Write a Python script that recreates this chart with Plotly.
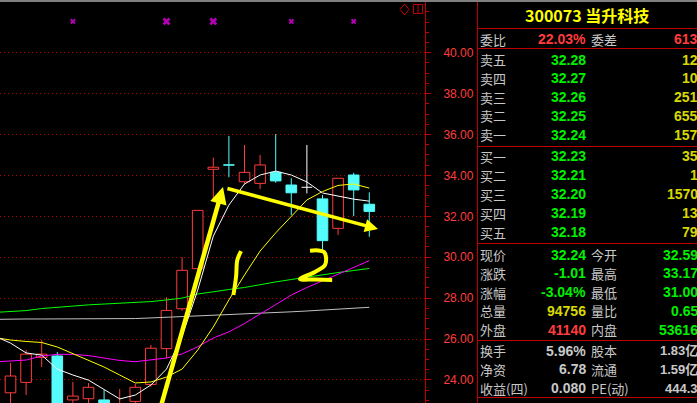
import plotly.graph_objects as go

# ---------------- data ----------------
IDX = list(range(24))
OPEN  = [23.37, 23.88, 25.10, 25.17, 23.02, 23.08, 23.02, 22.40, 22.95, 23.78, 25.53, 27.48,
         29.44, 34.30, 34.52, 33.69, 33.61, 34.15, 33.53, 33.42, 32.85, 31.41, 34.02, 32.59]
HIGH  = [24.83, 25.46, 25.95, 25.36, 23.90, 23.85, 23.51, 23.56, 23.80, 25.71, 28.04, 30.00,
         32.29, 34.87, 35.93, 35.49, 35.00, 36.02, 33.86, 35.49, 33.04, 33.86, 34.13, 33.17]
LOW   = [22.60, 23.26, 24.64, 22.50, 22.60, 22.70, 22.40, 22.20, 22.70, 23.67, 25.06, 27.38,
         29.44, 32.76, 33.91, 33.56, 33.33, 33.64, 32.06, 33.12, 30.35, 31.09, 32.01, 31.00]
CLOSE = [24.19, 25.26, 25.26, 22.60, 23.21, 23.64, 22.55, 22.80, 23.64, 25.55, 27.40, 29.36,
         32.29, 34.40, 34.50, 34.15, 34.51, 33.73, 33.15, 33.42, 30.81, 33.86, 33.29, 32.24]

MA_IDX = list(range(-1, 24))
MA5   = [26.14, 25.80, 25.32, 25.21, 24.53, 24.24, 23.99, 23.51, 23.07, 23.26, 23.75, 24.53, 26.14,
         28.39, 31.03, 32.55, 33.58, 34.02, 34.21, 34.02, 33.68, 33.14, 32.99, 32.84, 32.74]
MA10  = [26.07, 25.95, 25.88, 25.83, 25.61, 25.27, 24.93, 24.63, 24.24, 23.85, 23.90, 24.14, 24.53,
         25.46, 26.59, 27.91, 29.13, 30.30, 31.19, 32.01, 32.80, 33.21, 33.51, 33.58, 33.38]
MA20  = [24.88, 24.92, 24.97, 25.17, 25.25, 25.25, 25.19, 25.07, 24.95, 24.89, 24.97, 25.07, 25.27,
         25.62, 26.05, 26.35, 26.76, 27.24, 27.68, 28.15, 28.52, 28.84, 29.17, 29.50, 29.83]
MA60  = [27.30, 27.33, 27.39, 27.49, 27.56, 27.61, 27.67, 27.71, 27.75, 27.81, 27.83, 27.91, 28.00,
         28.20, 28.32, 28.42, 28.52, 28.67, 28.79, 28.91, 29.03, 29.15, 29.25, 29.35, 29.45]
MA120 = [26.96, 26.98, 26.98, 26.98, 26.98, 26.98, 26.99, 26.99, 26.99, 27.00, 27.03, 27.06, 27.10,
         27.15, 27.17, 27.20, 27.22, 27.27, 27.30, 27.33, 27.37, 27.42, 27.47, 27.51, 27.55]

SIGNAL_IDX = [4, 10, 13, 18, 22]
SIGNAL_LEVEL = 41.53

Y_TICKS = [24, 26, 28, 30, 32, 34, 36, 38, 40]
Y_TICK_TEXT = ["24.00", "26.00", "28.00", "30.00", "32.00", "34.00", "36.00", "38.00", "40.00"]

# hand-drawn annotations (index, price)
ARROW1_TAIL = (9.54, 22.43)
ARROW1_TIP = (13.62, 33.43)
ARROW2_TAIL = (13.81, 33.38)
ARROW2_TIP = (23.56, 31.38)
HAND1_X = [14.78, 14.54, 14.46, 14.29]
HAND1_Y = [30.30, 29.86, 29.05, 28.15]
HAND2_X = [19.20, 19.71, 20.10, 20.22, 20.16, 19.52, 18.56, 19.52, 20.62]
HAND2_Y = [30.32, 30.33, 30.25, 30.01, 29.62, 29.28, 28.93, 28.91, 28.89]

# quote panel
STOCK_TITLE = "300073 当升科技"
WEIBI = ("委比", "22.03%", "委差", "613")
SELL_LABELS = ["卖五", "卖四", "卖三", "卖二", "卖一"]
SELL_PRICES = ["32.28", "32.27", "32.26", "32.25", "32.24"]
SELL_VOLS = ["12", "10", "251", "655", "157"]
BUY_LABELS = ["买一", "买二", "买三", "买四", "买五"]
BUY_PRICES = ["32.23", "32.21", "32.20", "32.19", "32.18"]
BUY_VOLS = ["35", "1", "1570", "13", "79"]
QUOTE_L1 = ["现价", "涨跌", "涨幅", "总量", "外盘"]
QUOTE_V1 = ["32.24", "-1.01", "-3.04%", "94756", "41140"]
QUOTE_L2 = ["今开", "最高", "最低", "量比", "内盘"]
QUOTE_V2 = ["32.59", "33.17", "31.00", "0.65", "53616"]
INFO_L1 = ["换手", "净资", "收益(四)"]
INFO_V1 = ["5.96%", "6.78", "0.080"]
INFO_L2 = ["股本", "流通", "PE(动)"]
INFO_V2 = ["1.83亿", "1.59亿", "444.3"]

# ---------------- styles ----------------
W, H = 697, 403
PLOT_W = 425
RED = "#ff3c3c"
DARKRED = "#c00000"
CYAN = "#54fcfc"
GREEN = "#00f000"
YEL = "#d8d800"
GRAY = "#c8c8c8"
CJK = "Noto Sans CJK SC"
NUM = "Liberation Sans"
LBL_SIZE = 13
NUM_SIZE = 14
ROW = 18.8


def px(x):
    return x / PLOT_W


def py(y):
    return 1 - y / H


fig = go.Figure()


def wick_segments(ids):
    xs, ys = [], []
    for i in ids:
        top = max(OPEN[i], CLOSE[i])
        bot = min(OPEN[i], CLOSE[i])
        xs += [i, i, None, i, i, None]
        ys += [HIGH[i], top, None, bot, LOW[i], None]
    return xs, ys


up = [i for i in IDX if CLOSE[i] > OPEN[i]]
dn = [i for i in IDX if CLOSE[i] < OPEN[i]]
eq = [i for i in IDX if CLOSE[i] == OPEN[i]]

BW = 0.68
for ids, col in ((up, RED), (dn, CYAN)):
    xs, ys = wick_segments(ids)
    fig.add_trace(go.Scatter(x=xs, y=ys, mode="lines", line=dict(color=col, width=1),
                             hoverinfo="skip", showlegend=False))
xs, ys = [], []
for i in eq:
    xs += [i, i, None, i - BW / 2, i + BW / 2, None]
    ys += [HIGH[i], LOW[i], None, OPEN[i], OPEN[i], None]
fig.add_trace(go.Scatter(x=xs, y=ys, mode="lines", line=dict(color="#ffffff", width=1),
                         hoverinfo="skip", showlegend=False))

fig.add_trace(go.Bar(x=up, base=[OPEN[i] for i in up], y=[CLOSE[i] - OPEN[i] for i in up],
                     width=BW, marker=dict(color="#000000", line=dict(color=RED, width=1)),
                     hoverinfo="skip", showlegend=False))
fig.add_trace(go.Bar(x=dn, base=[CLOSE[i] for i in dn], y=[OPEN[i] - CLOSE[i] for i in dn],
                     width=BW, marker=dict(color=CYAN, line=dict(color=CYAN, width=1)),
                     hoverinfo="skip", showlegend=False))

for vals, col in ((MA120, "#c0c0c0"), (MA60, "#00ff00"), (MA20, "#ff00ff"),
                  (MA10, "#ffff00"), (MA5, "#ffffff")):
    fig.add_trace(go.Scatter(x=MA_IDX, y=vals, mode="lines", line=dict(color=col, width=1),
                             hoverinfo="skip", showlegend=False))

fig.add_trace(go.Scatter(x=SIGNAL_IDX, y=[SIGNAL_LEVEL] * len(SIGNAL_IDX), mode="markers",
                         marker=dict(symbol="x", size=[5, 7, 7, 5, 5], color="#ff00ff",
                                     line=dict(width=0)),
                         hoverinfo="skip", showlegend=False))

for hx, hy in ((HAND1_X, HAND1_Y), (HAND2_X, HAND2_Y)):
    fig.add_trace(go.Scatter(x=hx, y=hy, mode="lines",
                             line=dict(color="#ffff00", width=4, shape="spline"),
                             hoverinfo="skip", showlegend=False))

anns = []
for tail, tip, w in ((ARROW1_TAIL, ARROW1_TIP, 4.5), (ARROW2_TAIL, ARROW2_TIP, 3.5)):
    anns.append(dict(x=tip[0], y=tip[1], ax=tail[0], ay=tail[1], xref="x", yref="y",
                     axref="x", ayref="y", text="", showarrow=True, arrowhead=2,
                     arrowsize=0.75, arrowwidth=w, arrowcolor="#ffff00", standoff=0))


def txt(x, y, s, color, size, family, anchor="left", bold=False):
    if bold:
        s = "<b>" + s + "</b>"
    anns.append(dict(x=px(x), y=py(y), xref="paper", yref="paper", text=s, showarrow=False,
                     xanchor=anchor, yanchor="middle",
                     font=dict(color=color, size=size, family=family), borderpad=0))


LX, L2X, V1X, V2X = 479, 590, 587, 699
txt(586.5, 15, STOCK_TITLE, "#ffff00", 16, CJK + ", " + NUM, anchor="center", bold=True)
txt(LX, 39, WEIBI[0], GRAY, LBL_SIZE, CJK)
txt(V1X, 39, WEIBI[1], RED, NUM_SIZE, NUM, anchor="right", bold=True)
txt(L2X, 39, WEIBI[2], GRAY, LBL_SIZE, CJK)
txt(V2X, 39, WEIBI[3], RED, NUM_SIZE, NUM, anchor="right", bold=True)

for k in range(5):
    y = 59.5 + ROW * k
    txt(LX, y, SELL_LABELS[k], GRAY, LBL_SIZE, CJK)
    txt(V1X, y, SELL_PRICES[k], GREEN, NUM_SIZE, NUM, anchor="right", bold=True)
    txt(V2X, y, SELL_VOLS[k], YEL, NUM_SIZE, NUM, anchor="right", bold=True)
for k in range(5):
    y = 156.5 + 18.9 * k
    txt(LX, y, BUY_LABELS[k], GRAY, LBL_SIZE, CJK)
    txt(V1X, y, BUY_PRICES[k], GREEN, NUM_SIZE, NUM, anchor="right", bold=True)
    txt(V2X, y, BUY_VOLS[k], YEL, NUM_SIZE, NUM, anchor="right", bold=True)

V1_COLORS = [GREEN, GREEN, GREEN, YEL, RED]
for k in range(5):
    y = 254.5 + ROW * k
    txt(LX, y, QUOTE_L1[k], GRAY, LBL_SIZE, CJK)
    txt(V1X, y, QUOTE_V1[k], V1_COLORS[k], NUM_SIZE, NUM, anchor="right", bold=True)
    txt(L2X, y, QUOTE_L2[k], GRAY, LBL_SIZE, CJK)
    txt(V2X, y, QUOTE_V2[k], GREEN, NUM_SIZE, NUM, anchor="right", bold=True)
for k in range(3):
    y = 350.5 + ROW * k
    txt(LX, y, INFO_L1[k], GRAY, LBL_SIZE, CJK)
    txt(V1X, y, INFO_V1[k], GRAY, NUM_SIZE, NUM, anchor="right", bold=True)
    txt(L2X, y, INFO_L2[k], GRAY, LBL_SIZE, CJK)
    txt(V2X, y, INFO_V2[k], GRAY, LBL_SIZE, NUM + ", " + CJK, anchor="right", bold=True)

shapes = []


def hline(y, x0, x1, color=DARKRED, w=1):
    shapes.append(dict(type="line", xref="paper", yref="paper", x0=px(x0), x1=px(x1),
                       y0=py(y), y1=py(y), line=dict(color=color, width=w), layer="above"))


def vline(x, y0, y1, color=DARKRED, w=1):
    shapes.append(dict(type="line", xref="paper", yref="paper", x0=px(x), x1=px(x),
                       y0=py(y0), y1=py(y1), line=dict(color=color, width=w), layer="above"))


for y in (28.5, 48.5, 146.5, 243.5, 340.5, 397.5):
    hline(y, 477, 697)
vline(477.5, 0, 403)
hline(1, 0, 697, color="#808080", w=2)
shapes.append(dict(type="path", xref="paper", yref="paper",
                   path="M {},{} L {},{} L {},{} L {},{} Z".format(
                       px(404.5), py(4), px(409), py(9.5), px(404.5), py(15), px(400), py(9.5)),
                   line=dict(color=DARKRED, width=1), layer="above"))
shapes.append(dict(type="rect", xref="paper", yref="paper", x0=px(413.5), x1=px(422.5),
                   y0=py(4.5), y1=py(13.5), line=dict(color=DARKRED, width=1), layer="above"))
vline(418, 4.5, 13.5)

fig.update_layout(
    width=W, height=H, autosize=False,
    margin=dict(l=0, r=W - PLOT_W, t=0, b=0, pad=0),
    paper_bgcolor="#000000", plot_bgcolor="#000000",
    barmode="overlay", showlegend=False, hovermode=False,
    annotations=anns, shapes=shapes,
    xaxis=dict(range=[-0.673, 26.571], visible=False, showgrid=False, zeroline=False),
    yaxis=dict(range=[22.871, 42.577], side="right", showline=True, linecolor=DARKRED,
               linewidth=1, ticks="outside", ticklen=5, tickwidth=1, tickcolor=DARKRED,
               tickvals=Y_TICKS, ticktext=Y_TICK_TEXT, ticklabelstandoff=10,
               tickfont=dict(color=RED, size=12, family=NUM),
               showgrid=True, gridcolor="#b00000", griddash="1px,3px", gridwidth=1,
               zeroline=False,
               minor=dict(tickmode="linear", tick0=0, dtick=0.5, ticks="outside", ticklen=3,
                          tickcolor=DARKRED, showgrid=False)),
)

fig.write_html("out.html", config={"displayModeBar": False},
               post_script="document.body.style.margin='0';document.body.style.background='#000';")
